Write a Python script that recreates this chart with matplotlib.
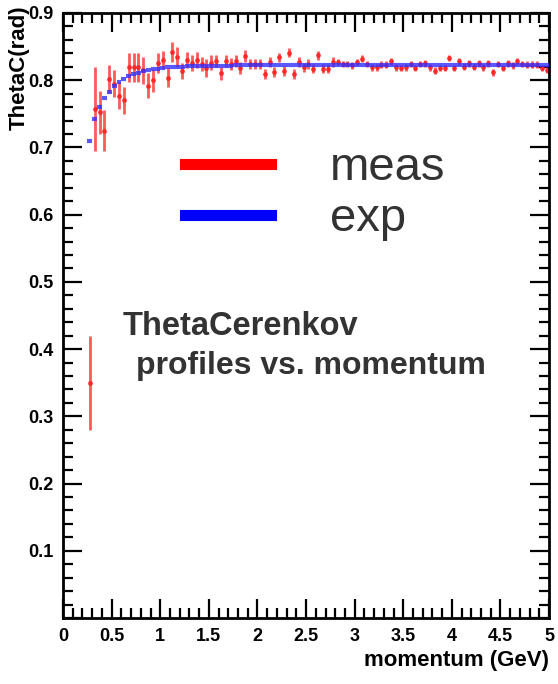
import numpy as np
import matplotlib
matplotlib.use("Agg")
import matplotlib.pyplot as plt
from matplotlib.ticker import MultipleLocator

plt.rcParams['font.family'] = ['Liberation Sans', 'DejaVu Sans']

# bin centres of the profile (0.05 GeV bins)
momentum = np.round(np.arange(0.275, 5.0, 0.05), 3)

# measured ThetaC profile (red)
meas = [0.350, 0.757, 0.752, 0.725, 0.802, 0.795, 0.777, 0.770, 0.819, 0.819,
        0.819, 0.815, 0.792, 0.800, 0.826, 0.830, 0.804, 0.842, 0.835, 0.814,
        0.830, 0.826, 0.830, 0.824, 0.818, 0.826, 0.828, 0.810, 0.828, 0.824,
        0.828, 0.818, 0.836, 0.824, 0.824, 0.824, 0.809, 0.827, 0.812, 0.834,
        0.814, 0.841, 0.809, 0.827, 0.819, 0.824, 0.817, 0.837, 0.817, 0.817,
        0.827, 0.827, 0.824, 0.824, 0.822, 0.827, 0.832, 0.824, 0.819, 0.819,
        0.823, 0.823, 0.828, 0.819, 0.818, 0.819, 0.824, 0.818, 0.824, 0.825,
        0.819, 0.814, 0.818, 0.818, 0.833, 0.818, 0.828, 0.820, 0.825, 0.820,
        0.825, 0.819, 0.825, 0.812, 0.824, 0.818, 0.825, 0.822, 0.828, 0.824,
        0.823, 0.823, 0.823, 0.818, 0.815]
meas_err = [0.070, 0.062, 0.032, 0.030, 0.021, 0.020, 0.020, 0.020, 0.021, 0.021,
            0.021, 0.020, 0.018, 0.017, 0.015, 0.013, 0.014, 0.015, 0.015, 0.012,
            0.012, 0.012, 0.012, 0.010, 0.013, 0.011, 0.009, 0.009, 0.009, 0.009,
            0.009, 0.009, 0.009, 0.007, 0.007, 0.007, 0.007, 0.007, 0.007, 0.007,
            0.007, 0.007, 0.007, 0.007, 0.007, 0.007, 0.007, 0.007, 0.007, 0.007,
            0.007, 0.005, 0.005, 0.005, 0.005, 0.005, 0.005, 0.005, 0.005, 0.005,
            0.005, 0.005, 0.005, 0.005, 0.005, 0.005, 0.005, 0.005, 0.005, 0.005,
            0.005, 0.005, 0.005, 0.005, 0.005, 0.005, 0.005, 0.005, 0.005, 0.005,
            0.005, 0.005, 0.005, 0.005, 0.005, 0.005, 0.005, 0.005, 0.005, 0.005,
            0.005, 0.005, 0.005, 0.005, 0.005]

# expected ThetaC (blue)
expd = [0.710, 0.743, 0.760, 0.774, 0.783, 0.791, 0.797, 0.802, 0.806, 0.809,
        0.811, 0.813, 0.815, 0.816, 0.817, 0.818, 0.819, 0.819, 0.820, 0.820,
        0.821, 0.821, 0.821, 0.821, 0.821, 0.821, 0.821, 0.821, 0.821, 0.821,
        0.822, 0.822, 0.822, 0.822, 0.822, 0.822, 0.822, 0.822, 0.822, 0.822,
        0.822, 0.822, 0.822, 0.822, 0.822, 0.822, 0.822, 0.822, 0.822, 0.822,
        0.822, 0.822, 0.822, 0.822, 0.822, 0.822, 0.822, 0.822, 0.822, 0.822,
        0.822, 0.822, 0.822, 0.822, 0.822, 0.822, 0.822, 0.822, 0.822, 0.822,
        0.822, 0.822, 0.822, 0.822, 0.822, 0.822, 0.822, 0.822, 0.822, 0.822,
        0.822, 0.822, 0.822, 0.822, 0.822, 0.822, 0.822, 0.822, 0.822, 0.822,
        0.822, 0.822, 0.822, 0.822, 0.822]

x_labels = ['0', '0.5', '1', '1.5', '2', '2.5', '3', '3.5', '4', '4.5', '5']
y_labels = ['', '0.1', '0.2', '0.3', '0.4', '0.5', '0.6', '0.7', '0.8', '0.9']

fig = plt.figure(figsize=(5.58, 6.84), dpi=100)
ax = fig.add_axes([0.113, 0.0965, 0.871, 0.8845])

ax.errorbar(momentum, meas, yerr=meas_err, fmt='o', ms=2.5, color='#ff2020',
            ecolor='#ff3030', elinewidth=2, alpha=0.8, zorder=2)
ax.errorbar(momentum, expd, xerr=0.025, fmt='none', ecolor='#3030ff',
            elinewidth=3, alpha=0.8, zorder=3)

ax.set_xlim(0, 5)
ax.set_ylim(0, 0.9)

# ROOT-like ticks on all sides
ax.xaxis.set_minor_locator(MultipleLocator(0.1))
ax.yaxis.set_minor_locator(MultipleLocator(0.02))
ax.set_xticks(np.arange(0, 5.01, 0.5))
ax.set_xticklabels(x_labels, fontweight='bold')
ax.set_yticks(np.arange(0, 0.91, 0.1))
ax.set_yticklabels(y_labels, fontweight='bold')
ax.tick_params(which='both', direction='in', top=True, right=True, width=1.6)
ax.tick_params(which='major', length=14)
ax.tick_params(which='minor', length=7)
ax.tick_params(axis='both', labelsize=13, pad=7)
for sp in ax.spines.values():
    sp.set_linewidth(2)

ax.set_xlabel('momentum (GeV)', loc='right', fontsize=16, fontweight='bold')
ax.set_ylabel('ThetaC(rad)', loc='top', fontsize=16, fontweight='bold')
ax.yaxis.set_label_coords(-0.068, 1.013)

# legend with thick line handles
h_meas, = ax.plot([], [], color='red', lw=8)
h_exp, = ax.plot([], [], color='blue', lw=8)
ax.legend([h_meas, h_exp], ['meas', 'exp'], loc='upper left',
          bbox_to_anchor=(0.251, 0.78), frameon=False, fontsize=34,
          handlelength=1.82, handletextpad=1.25, labelspacing=0.15,
          borderpad=0, borderaxespad=0, labelcolor='#333333')

ax.text(0.1235, 0.4826, 'ThetaCerenkov', transform=ax.transAxes, fontsize=23.5,
        fontweight='bold', color='#333333', va='center')
ax.text(0.150, 0.4165, 'profiles vs. momentum', transform=ax.transAxes, fontsize=23,
        fontweight='bold', color='#333333', va='center')

fig.savefig('out.png', dpi=100)
